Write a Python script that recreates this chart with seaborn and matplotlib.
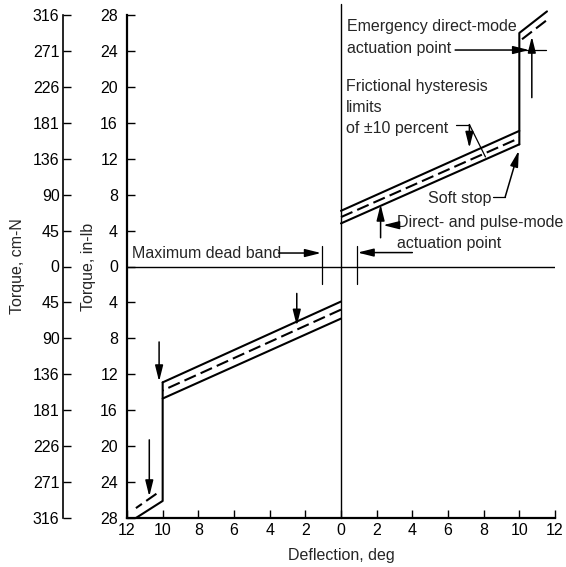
import matplotlib
matplotlib.use("Agg")
import matplotlib.pyplot as plt
import seaborn as sns
import numpy as np

sns.set_theme(style="white")
plt.rcParams["font.family"] = ["Liberation Sans", "DejaVu Sans"]
FS = 11.5

# ---- data (deflection in deg, torque in in-lb) ----
# positive deflection branch (hysteresis band)
defl_pos = [0.0, 10.0]
upper_pos = [6.2, 15.1]
mid_pos = [5.5, 14.3]
lower_pos = [4.8, 13.6]
# positive soft stop / emergency segment
stop_defl_pos = [10.0, 10.0, 11.55]
stop_torque_pos = [13.6, 26.0, 28.4]
stopdash_defl_pos = [10.15, 11.65]
stopdash_torque_pos = [25.3, 27.6]

# negative deflection branch
defl_neg = [0.0, -10.0]
upper_neg = [-3.9, -12.9]
mid_neg = [-4.8, -13.8]
lower_neg = [-5.8, -14.7]
stop_defl_neg = [-10.0, -10.0, -11.5]
stop_torque_neg = [-12.9, -26.1, -28.0]
stopdash_defl_neg = [-10.35, -11.5]
stopdash_torque_neg = [-25.3, -26.9]

# ticks
x_ticks = list(range(-12, 13, 2))
x_labels = [str(abs(v)) for v in x_ticks]
y_ticks = list(range(-28, 29, 4))
inlb_labels = [str(abs(v)) for v in y_ticks]
cmN_labels = ["316", "271", "226", "181", "136", "90", "45", "0",
              "45", "90", "136", "181", "226", "271", "316"]

# ---- figure ----
W, H = 566, 567
fig = plt.figure(figsize=(W / 100, H / 100), dpi=100)
rect = [127 / W, (H - 518) / H, 428 / W, 503 / H]
ax = fig.add_axes(rect)
ax2 = fig.add_axes(rect, facecolor="none")

for a in (ax, ax2):
    a.set_xlim(-12, 12)
    a.set_ylim(-28, 28)

solid = dict(color="black", lw=1.5)
dashed = dict(color="black", lw=1.5, ls=(0, (6, 2.5)))

def seg(x, y, **kw):
    sns.lineplot(x=x, y=y, ax=ax, sort=False, estimator=None, legend=False, **kw)

seg(defl_pos, upper_pos, **solid)
seg(defl_pos, mid_pos, **dashed)
seg(defl_pos, lower_pos, **solid)
seg(stop_defl_pos, stop_torque_pos, clip_on=False, **solid)
seg(stopdash_defl_pos, stopdash_torque_pos, clip_on=False, **dashed)

seg(defl_neg, upper_neg, **solid)
seg(defl_neg, mid_neg, **dashed)
seg(defl_neg, lower_neg, **solid)
seg(stop_defl_neg, stop_torque_neg, clip_on=False, **solid)
seg(stopdash_defl_neg, stopdash_torque_neg, clip_on=False, **dashed)

# zero axes lines
ax.plot([-12, 12], [0, 0], color="black", lw=1.0)
ax.plot([0, 0], [-28, 29.2], color="black", lw=1.0, clip_on=False)

thin = dict(color="black", lw=0.9)
# dead band markers
ax.plot([-1.08, -1.08], [2.3, -1.9], **thin)
ax.plot([0.89, 0.89], [2.3, -1.9], **thin)
# emergency crosshair
ax.plot([10.0, 11.5], [24.1, 24.1], **thin, clip_on=False)

arrow = dict(arrowstyle="-|>,head_length=0.8,head_width=0.2", color="black",
             lw=1.1, shrinkA=0, shrinkB=0)

def arr(tail, tip):
    ax.annotate("", xy=tip, xytext=tail, arrowprops=arrow, annotation_clip=False)

# annotations
ax.text(0.34, 27.5, "Emergency direct-mode\nactuation point", fontsize=FS,
        ha="left", va="top", linespacing=1.55)
arr((6.4, 24.1), (10.55, 24.1))
arr((10.7, 18.8), (10.7, 25.6))

ax.text(0.28, 20.9, "Frictional hysteresis\nlimits\nof \u00b110 percent", fontsize=FS,
        ha="left", va="top", linespacing=1.5)
ax.plot([6.45, 7.2], [15.8, 15.8], **thin)
arr((7.2, 15.8), (7.2, 13.2))
ax.plot([7.2, 8.1], [15.8, 12.2], **thin)

ax.text(8.42, 7.6, "Soft stop", fontsize=FS, ha="right", va="center")
ax.plot([8.5, 9.2], [7.7, 7.7], **thin)
arr((9.2, 7.7), (9.97, 12.9))

ax.text(3.14, 5.75, "Direct- and pulse-mode\nactuation point", fontsize=FS,
        ha="left", va="top", linespacing=1.55)
arr((3.1, 4.6), (2.36, 4.6))
arr((2.22, 3.2), (2.22, 6.9))

ax.text(-11.72, 1.5, "Maximum dead band", fontsize=FS, ha="left", va="center")
arr((-3.5, 1.5), (-1.12, 1.5))
arr((4.0, 1.55), (0.93, 1.55))

# lower-left arrows
arr((-2.48, -3.0), (-2.48, -6.6))
arr((-10.2, -8.4), (-10.2, -12.8))
arr((-10.75, -19.3), (-10.75, -25.6))

# ---- axes styling ----
for s in ("top", "right"):
    ax.spines[s].set_visible(False)
for s in ("left", "bottom"):
    ax.spines[s].set_linewidth(1.6)
    ax.spines[s].set_color("black")

ax.set_xticks(x_ticks)
ax.set_xticklabels(x_labels)
ax.set_yticks(y_ticks)
ax.set_yticklabels(inlb_labels)
ax.tick_params(axis="both", direction="in", length=6, width=1.0, colors="black",
               labelsize=FS)
ax.tick_params(axis="y", pad=6.5, left=True)
ax.tick_params(axis="x", pad=3.5, bottom=True)

ax.set_xlabel("Deflection, deg", fontsize=FS, va="center")
ax.xaxis.set_label_coords(0.5, -0.074)
ax.set_ylabel("Torque, in-lb", fontsize=FS, va="center")
ax.yaxis.set_label_coords(-0.091, 0.5)

# outer cm-N axis
for s in ("top", "right", "bottom"):
    ax2.spines[s].set_visible(False)
ax2.spines["left"].set_position(("axes", -64 / 428))
ax2.spines["left"].set_linewidth(1.2)
ax2.spines["left"].set_color("black")
ax2.set_xticks([])
ax2.set_yticks(y_ticks)
ax2.set_yticklabels(cmN_labels)
ax2.tick_params(axis="y", direction="in", length=6, width=1.0, colors="black",
                labelsize=FS, pad=2.5, left=True)
ax2.set_ylabel("Torque, cm-N", fontsize=FS, va="center")
ax2.yaxis.set_label_coords(-0.255, 0.5)

fig.savefig("out.png", dpi=100)
